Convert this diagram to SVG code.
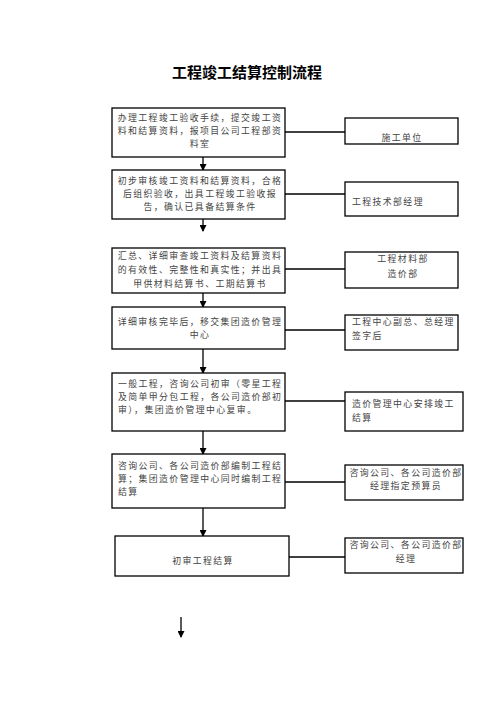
<svg xmlns="http://www.w3.org/2000/svg" width="496" height="702" viewBox="0 0 496 702">
<style>
.box{fill:#fff;stroke:#000;stroke-width:1.3}
.ln{stroke:#000;stroke-width:1.3;fill:none}
.t{font-family:"Noto Sans CJK SC","Noto Sans CJK JP",sans-serif;font-size:8.9px;letter-spacing:1.4px;fill:#444}
.m{text-anchor:middle}
.title{font-family:"Noto Sans CJK SC",sans-serif;font-size:15px;font-weight:bold;fill:#000;text-anchor:middle}
</style>
<defs>
<marker id="ad" markerWidth="7" markerHeight="7" refX="6" refY="3.5" orient="auto" markerUnits="userSpaceOnUse">
<path d="M0,0 L7,3.5 L0,7 z" fill="#000"/>
</marker>
</defs>
<rect width="496" height="702" fill="#fff"/>
<text class="title" x="247" y="78">工程竣工结算控制流程</text>

<g id="connectors">
<line class="ln" x1="203" y1="157" x2="203" y2="170" marker-end="url(#ad)"/>
<line class="ln" x1="203" y1="219" x2="203" y2="231" marker-end="url(#ad)"/>
<line class="ln" x1="203" y1="293" x2="203" y2="307" marker-end="url(#ad)"/>
<line class="ln" x1="203" y1="349" x2="203" y2="373" marker-end="url(#ad)"/>
<line class="ln" x1="203" y1="431" x2="203" y2="454" marker-end="url(#ad)"/>
<line class="ln" x1="203" y1="508" x2="203" y2="536" marker-end="url(#ad)"/>
<line class="ln" x1="181" y1="617" x2="181" y2="637" marker-end="url(#ad)"/>
<line class="ln" x1="285" y1="132" x2="345" y2="132"/>
<line class="ln" x1="285" y1="194" x2="345" y2="194"/>
<line class="ln" x1="285" y1="269" x2="345" y2="269"/>
<line class="ln" x1="285" y1="330" x2="345" y2="330"/>
<line class="ln" x1="285" y1="401" x2="345" y2="401"/>
<line class="ln" x1="285" y1="482" x2="345" y2="482"/>
<line class="ln" x1="289" y1="557" x2="345" y2="557"/>
</g>

<g id="n1"><rect class="box" x="112" y="108" width="173" height="49"/>
<text class="t m" x="200" y="121">办理工程竣工验收手续，提交竣工资</text>
<text class="t m" x="200" y="134">料和结算资料，报项目公司工程部资</text>
<text class="t m" x="200" y="147">料室</text></g>

<g id="n2"><rect class="box" x="112" y="170" width="173" height="49"/>
<text class="t m" x="200" y="184">初步审核竣工资料和结算资料，合格</text>
<text class="t m" x="200" y="197">后组织验收，出具工程竣工验收报</text>
<text class="t m" x="200" y="210">告，确认已具备结算条件</text></g>

<g id="n3"><rect class="box" x="112" y="248" width="173" height="45"/>
<text class="t m" x="200" y="259">汇总、详细审查竣工资料及结算资料</text>
<text class="t m" x="200" y="273">的有效性、完整性和真实性；并出具</text>
<text class="t m" x="200" y="287">甲供材料结算书、工期结算书</text></g>

<g id="n4"><rect class="box" x="112" y="307" width="173" height="42"/>
<text class="t m" x="200" y="325">详细审核完毕后，移交集团造价管理</text>
<text class="t m" x="200" y="338">中心</text></g>

<g id="n5"><rect class="box" x="112" y="373" width="173" height="58"/>
<text class="t" x="118" y="387">一般工程，咨询公司初审（零星工程</text>
<text class="t" x="118" y="400">及简单甲分包工程，各公司造价部初</text>
<text class="t" x="118" y="413">审），集团造价管理中心复审。</text></g>

<g id="n6"><rect class="box" x="112" y="454" width="173" height="54"/>
<text class="t" x="118" y="469">咨询公司、各公司造价部编制工程结</text>
<text class="t" x="118" y="482">算；集团造价管理中心同时编制工程</text>
<text class="t" x="118" y="495">结算</text></g>

<g id="n7"><rect class="box" x="115" y="536" width="174" height="40"/>
<text class="t m" x="203" y="564">初审工程结算</text></g>

<g id="r1"><rect class="box" x="345" y="118" width="113" height="26"/>
<text class="t m" x="402" y="141">施工单位</text></g>

<g id="r2"><rect class="box" x="345" y="182" width="113" height="34"/>
<text class="t" x="352" y="205">工程技术部经理</text></g>

<g id="r3"><rect class="box" x="345" y="252" width="113" height="36"/>
<text class="t m" x="403" y="262">工程材料部</text>
<text class="t m" x="403" y="277">造价部</text></g>

<g id="r4"><rect class="box" x="345" y="315" width="113" height="35"/>
<text class="t" x="352" y="325">工程中心副总、总经理</text>
<text class="t" x="352" y="339">签字后</text></g>

<g id="r5"><rect class="box" x="345" y="392" width="118" height="39"/>
<text class="t" x="352" y="407">造价管理中心安排竣工</text>
<text class="t" x="352" y="421">结算</text></g>

<g id="r6"><rect class="box" x="345" y="465" width="118" height="35"/>
<text class="t m" x="406" y="476">咨询公司、各公司造价部</text>
<text class="t m" x="406" y="489">经理指定预算员</text></g>

<g id="r7"><rect class="box" x="345" y="538" width="118" height="35"/>
<text class="t m" x="406" y="548">咨询公司、各公司造价部</text>
<text class="t m" x="406" y="562">经理</text></g>
</svg>
